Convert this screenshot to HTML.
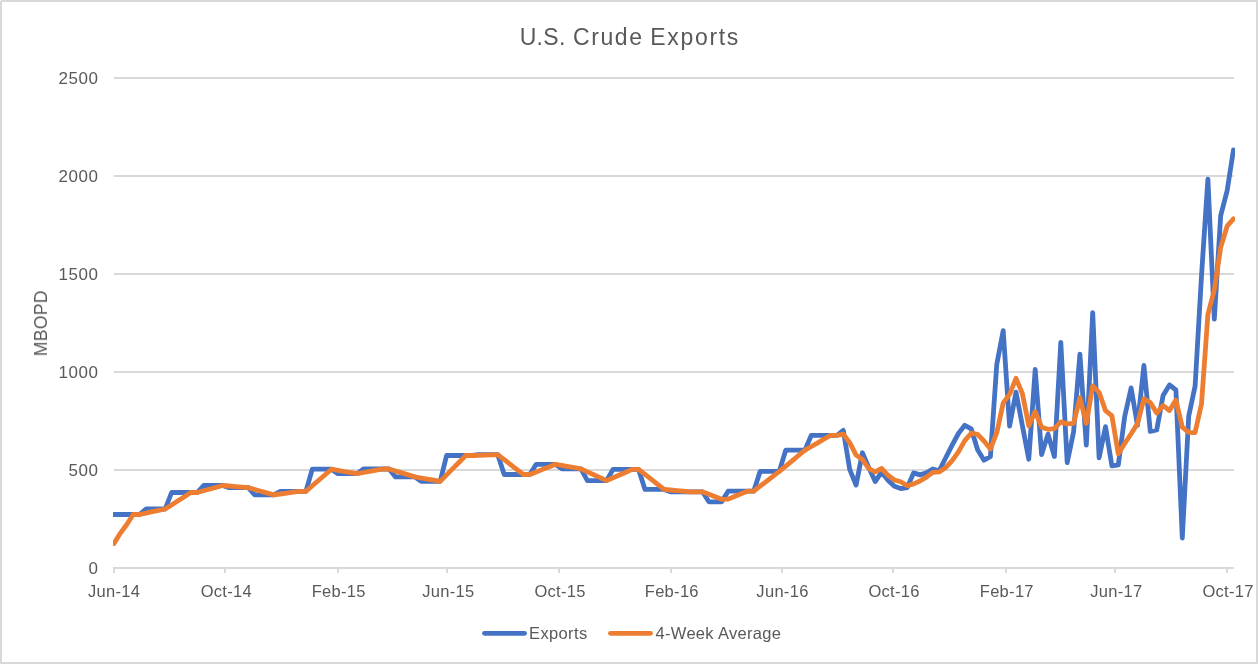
<!DOCTYPE html>
<html><head><meta charset="utf-8"><title>U.S. Crude Exports</title>
<style>
html,body{margin:0;padding:0;background:#fff;}
body{width:1258px;height:664px;overflow:hidden;font-family:"Liberation Sans",sans-serif;}
svg{display:block;}
svg text{font-family:"Liberation Sans",sans-serif;fill:#595959;}
#txt{opacity:0.999;}
</style></head><body>
<svg width="1258" height="664" viewBox="0 0 1258 664">
<defs><clipPath id="plot"><rect x="113" y="70" width="1122" height="505"/></clipPath></defs>
<rect x="0" y="0" width="1258" height="664" fill="#fff"/>
<rect x="1" y="1" width="1256" height="662" fill="none" stroke="#d9d9d9" stroke-width="2"/>
<rect x="0" y="0" width="1" height="1" fill="#fff"/>
<rect x="113.7" y="77" width="1120.3" height="2" fill="#d9d9d9"/><rect x="113.7" y="175" width="1120.3" height="2" fill="#d9d9d9"/><rect x="113.7" y="273" width="1120.3" height="2" fill="#d9d9d9"/><rect x="113.7" y="371" width="1120.3" height="2" fill="#d9d9d9"/><rect x="113.7" y="469" width="1120.3" height="2" fill="#d9d9d9"/><rect x="113.7" y="567" width="1120.3" height="2" fill="#d9d9d9"/>
<rect x="113" y="567" width="2" height="6" fill="#d9d9d9"/><rect x="224" y="567" width="2" height="6" fill="#d9d9d9"/><rect x="337" y="567" width="2" height="6" fill="#d9d9d9"/><rect x="446" y="567" width="2" height="6" fill="#d9d9d9"/><rect x="558" y="567" width="2" height="6" fill="#d9d9d9"/><rect x="670" y="567" width="2" height="6" fill="#d9d9d9"/><rect x="781" y="567" width="2" height="6" fill="#d9d9d9"/><rect x="892" y="567" width="2" height="6" fill="#d9d9d9"/><rect x="1005" y="567" width="2" height="6" fill="#d9d9d9"/><rect x="1114" y="567" width="2" height="6" fill="#d9d9d9"/><rect x="1226" y="567" width="2" height="6" fill="#d9d9d9"/>
<g clip-path="url(#plot)" fill="none" stroke-width="4.8" stroke-linejoin="round" stroke-linecap="round">
<polyline stroke="#4472c4" points="114.0,514.5 120.4,514.5 126.8,514.5 133.2,514.5 139.6,514.5 146.0,509.0 152.4,509.0 158.8,509.0 165.2,509.0 171.6,492.5 178.0,492.5 184.4,492.5 190.8,492.5 197.2,492.5 203.6,485.5 210.0,485.5 216.4,485.5 222.7,485.5 229.1,487.6 235.5,487.6 241.9,487.6 248.3,487.6 254.7,494.9 261.1,494.9 267.5,494.9 273.9,494.9 280.3,491.4 286.7,491.4 293.1,491.4 299.5,491.4 305.9,491.4 312.3,469.2 318.7,469.2 325.1,469.2 331.5,469.2 337.9,473.7 344.3,473.7 350.7,473.7 357.1,473.7 363.5,469.0 369.9,469.0 376.3,469.0 382.7,469.0 389.1,469.0 395.5,476.9 401.9,476.9 408.3,476.9 414.7,476.9 421.1,481.4 427.5,481.4 433.9,481.4 440.2,481.4 446.6,455.5 453.0,455.5 459.4,455.5 465.8,455.5 472.2,455.5 478.6,454.7 485.0,454.7 491.4,454.7 497.8,454.7 504.2,474.5 510.6,474.5 517.0,474.5 523.4,474.5 529.8,474.5 536.2,464.3 542.6,464.3 549.0,464.3 555.4,464.3 561.8,468.8 568.2,468.8 574.6,468.8 581.0,468.8 587.4,480.6 593.8,480.6 600.2,480.6 606.6,480.6 613.0,469.4 619.4,469.4 625.8,469.4 632.2,469.4 638.6,469.4 645.0,489.4 651.3,489.4 657.7,489.4 664.1,489.4 670.5,491.8 676.9,491.8 683.3,491.8 689.7,491.8 696.1,491.8 702.5,491.8 708.9,501.8 715.3,501.8 721.7,501.8 728.1,491.2 734.5,491.2 740.9,491.2 747.3,491.2 753.7,491.2 760.1,471.4 766.5,471.4 772.9,471.4 779.3,471.4 785.7,450.2 792.1,450.2 798.5,450.2 804.9,450.2 811.3,435.3 817.7,435.3 824.1,435.3 830.5,435.3 836.9,435.3 843.3,430.4 849.7,469.4 856.1,485.1 862.4,452.8 868.8,467.6 875.2,481.6 881.6,472.0 888.0,480.2 894.4,486.3 900.8,488.6 907.2,487.6 913.6,472.9 920.0,474.9 926.4,472.9 932.8,469.0 939.2,470.8 945.6,458.0 952.0,445.3 958.4,433.5 964.8,425.3 971.2,428.8 977.6,449.8 984.0,460.2 990.4,456.7 996.8,364.2 1003.2,330.6 1009.6,426.1 1016.0,392.2 1022.4,425.7 1028.8,459.2 1035.2,369.5 1041.6,454.5 1048.0,434.1 1054.4,456.5 1060.8,342.4 1067.2,462.7 1073.6,431.8 1079.9,354.2 1086.3,445.1 1092.7,312.6 1099.1,457.8 1105.5,426.7 1111.9,465.9 1118.3,464.9 1124.7,416.5 1131.1,387.9 1137.5,425.3 1143.9,365.5 1150.3,431.4 1156.7,430.0 1163.1,395.5 1169.5,384.9 1175.9,390.0 1182.3,538.0 1188.7,416.3 1195.1,386.1 1201.5,275.8 1207.9,179.1 1214.3,319.1 1220.7,215.6 1227.1,190.9 1233.5,149.9"/>
<polyline stroke="#ed7d31" points="114.0,543.5 120.4,533.1 126.8,524.5 133.2,514.5 139.6,514.5 146.0,513.1 152.4,511.7 158.8,510.4 165.2,509.0 171.6,504.9 178.0,500.8 184.4,496.7 190.8,492.5 197.2,492.5 203.6,490.8 210.0,489.0 216.4,487.2 222.7,485.5 229.1,486.0 235.5,486.6 241.9,487.1 248.3,487.6 254.7,489.5 261.1,491.3 267.5,493.1 273.9,494.9 280.3,494.0 286.7,493.1 293.1,492.2 299.5,491.4 305.9,491.4 312.3,485.8 318.7,480.3 325.1,474.8 331.5,469.2 337.9,470.3 344.3,471.5 350.7,472.6 357.1,473.7 363.5,472.5 369.9,471.4 376.3,470.2 382.7,469.0 389.1,469.0 395.5,471.0 401.9,472.9 408.3,474.9 414.7,476.9 421.1,478.0 427.5,479.1 433.9,480.2 440.2,481.4 446.6,474.9 453.0,468.4 459.4,462.0 465.8,455.5 472.2,455.5 478.6,455.3 485.0,455.1 491.4,454.9 497.8,454.7 504.2,459.7 510.6,464.6 517.0,469.6 523.4,474.5 529.8,474.5 536.2,472.0 542.6,469.4 549.0,466.9 555.4,464.3 561.8,465.4 568.2,466.6 574.6,467.7 581.0,468.8 587.4,471.8 593.8,474.7 600.2,477.6 606.6,480.6 613.0,477.8 619.4,475.0 625.8,472.2 632.2,469.4 638.6,469.4 645.0,474.4 651.3,479.4 657.7,484.4 664.1,489.4 670.5,490.0 676.9,490.6 683.3,491.2 689.7,491.8 696.1,491.8 702.5,491.8 708.9,494.3 715.3,496.8 721.7,499.3 728.1,499.1 734.5,496.5 740.9,493.8 747.3,491.2 753.7,491.2 760.1,486.2 766.5,481.3 772.9,476.3 779.3,471.4 785.7,466.1 792.1,460.8 798.5,455.5 804.9,450.2 811.3,446.5 817.7,442.8 824.1,439.0 830.5,435.3 836.9,435.3 843.3,434.1 849.7,442.6 856.1,455.1 862.4,459.4 868.8,468.7 875.2,471.8 881.6,468.5 888.0,475.3 894.4,480.0 900.8,481.8 907.2,485.7 913.6,483.9 920.0,481.0 926.4,477.1 932.8,472.4 939.2,471.9 945.6,467.7 952.0,460.8 958.4,451.9 964.8,440.6 971.2,433.2 977.6,434.4 984.0,441.0 990.4,448.9 996.8,432.7 1003.2,402.9 1009.6,394.4 1016.0,378.3 1022.4,393.7 1028.8,425.8 1035.2,411.6 1041.6,427.2 1048.0,429.3 1054.4,428.6 1060.8,421.9 1067.2,423.9 1073.6,423.4 1079.9,397.8 1086.3,423.4 1092.7,385.9 1099.1,392.4 1105.5,410.6 1111.9,415.8 1118.3,453.8 1124.7,443.5 1131.1,433.8 1137.5,423.6 1143.9,398.8 1150.3,402.5 1156.7,413.1 1163.1,405.6 1169.5,410.5 1175.9,400.1 1182.3,427.1 1188.7,432.3 1195.1,432.6 1201.5,404.0 1207.9,314.3 1214.3,290.0 1220.7,247.4 1227.1,226.2 1233.5,218.9"/>
</g>
<line x1="484.5" y1="633.3" x2="524.5" y2="633.3" stroke="#4472c4" stroke-width="4.8" stroke-linecap="round"/>
<line x1="610.5" y1="633.3" x2="650.5" y2="633.3" stroke="#ed7d31" stroke-width="4.8" stroke-linecap="round"/>
<g id="txt">
<text y="44.7" font-size="23"><tspan x="519.7" letter-spacing="0.3">U.S.</tspan><tspan x="573" letter-spacing="1.6">Crude</tspan><tspan x="650.2" letter-spacing="1.7">Exports</tspan></text>
<text x="98.4" y="83.7" text-anchor="end" font-size="17" letter-spacing="0.5">2500</text><text x="98.4" y="181.7" text-anchor="end" font-size="17" letter-spacing="0.5">2000</text><text x="98.4" y="279.7" text-anchor="end" font-size="17" letter-spacing="0.5">1500</text><text x="98.4" y="377.7" text-anchor="end" font-size="17" letter-spacing="0.5">1000</text><text x="98.4" y="475.7" text-anchor="end" font-size="17" letter-spacing="0.5">500</text><text x="98.4" y="573.7" text-anchor="end" font-size="17" letter-spacing="0.5">0</text>
<text x="114.2" y="597" text-anchor="middle" font-size="16.5" letter-spacing="0.3">Jun-14</text><text x="226.3" y="597" text-anchor="middle" font-size="16.5" letter-spacing="0.3">Oct-14</text><text x="338.7" y="597" text-anchor="middle" font-size="16.5" letter-spacing="0.3">Feb-15</text><text x="448.4" y="597" text-anchor="middle" font-size="16.5" letter-spacing="0.3">Jun-15</text><text x="560.1" y="597" text-anchor="middle" font-size="16.5" letter-spacing="0.3">Oct-15</text><text x="671.8" y="597" text-anchor="middle" font-size="16.5" letter-spacing="0.3">Feb-16</text><text x="782.5" y="597" text-anchor="middle" font-size="16.5" letter-spacing="0.3">Jun-16</text><text x="894.1" y="597" text-anchor="middle" font-size="16.5" letter-spacing="0.3">Oct-16</text><text x="1006.8" y="597" text-anchor="middle" font-size="16.5" letter-spacing="0.3">Feb-17</text><text x="1116.3" y="597" text-anchor="middle" font-size="16.5" letter-spacing="0.3">Jun-17</text><text x="1228.1" y="597" text-anchor="middle" font-size="16.5" letter-spacing="0.3">Oct-17</text>
<text transform="translate(47,323.2) rotate(-90)" text-anchor="middle" font-size="17.5" letter-spacing="0.35">MBOPD</text>
<text x="529" y="639" font-size="16.5" letter-spacing="0.37">Exports</text>
<text x="655.5" y="639" font-size="16.5" letter-spacing="0.31">4-Week Average</text>
</g>
</svg>
</body></html>
